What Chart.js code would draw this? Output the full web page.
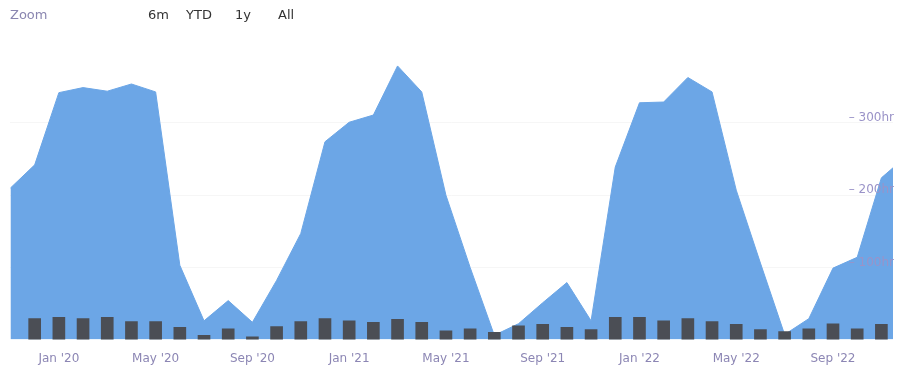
<!DOCTYPE html>
<html>
<head>
<meta charset="utf-8">
<script src="https://cdn.jsdelivr.net/npm/chart.js@4"></script>
<style>
  body { margin: 0; background: #fff; }
  #wrap { position: relative; width: 900px; height: 375px; }
  #zoomBar { position: absolute; left: 10px; top: 7px; font: 13px "DejaVu Sans", sans-serif; color: #8a86b0; }
  #zoomBar span { position: absolute; top: 0; color: #333; white-space: nowrap; }
</style>
</head>
<body>
<div id="wrap">
  <canvas id="hoursChart" width="900" height="375"></canvas>
  <div id="zoomBar">Zoom
    <span style="left:138px">6m</span>
    <span style="left:176px">YTD</span>
    <span style="left:225px">1y</span>
    <span style="left:268px">All</span>
  </div>
</div>
<script>
// months from Nov '19 to Dec '22
const months = ["Nov '19", "Dec '19",
    "Jan '20", "Feb '20", "Mar '20", "Apr '20", "May '20", "Jun '20", "Jul '20", "Aug '20", "Sep '20", "Oct '20", "Nov '20", "Dec '20",
    "Jan '21", "Feb '21", "Mar '21", "Apr '21", "May '21", "Jun '21", "Jul '21", "Aug '21", "Sep '21", "Oct '21", "Nov '21", "Dec '21",
    "Jan '22", "Feb '22", "Mar '22", "Apr '22", "May '22", "Jun '22", "Jul '22", "Aug '22", "Sep '22", "Oct '22", "Nov '22", "Dec '22"];

// total hours (area)
const totalHours = [210, 242,
    342, 349, 344, 354, 343, 103, 26, 54, 24, 82, 147, 274,
    301, 311, 379, 343, 200, 100, 6, 22, 51, 79, 26, 239,
    328, 329, 363, 343, 207, 106, 7, 29, 99, 114, 224, 253];

// second series (columns)
const columnHours = [null, 29,
    31, 29, 31, 25, 25, 17, 6, 15, 4, 18, 25, 29,
    26, 24, 28, 24, 12, 15, 10, 19, 21, 17, 14, 31,
    31, 26, 29, 25, 21, 14, 11, 15, 22, 15, 21, null];

const xTickMonths = ["Jan '20", "May '20", "Sep '20", "Jan '21", "May '21", "Sep '21", "Jan '22", "May '22", "Sep '22"];
const yTicks = [100, 200, 300];

const labelFont = { family: 'DejaVu Sans', size: 12 };

const ctxHours = document.getElementById('hoursChart').getContext('2d');
const myHoursChart = new Chart(ctxHours, {
    data: {
        datasets: [{
            type: 'bar',
            label: 'Columns',
            data: columnHours.map((v, i) => ({ x: i, y: v })),
            backgroundColor: '#4b4e55',
            barThickness: 12,
            order: 0
        },
        {
            type: 'line',
            label: 'Hours',
            data: totalHours.map((v, i) => ({ x: i, y: v })),
            backgroundColor: 'rgb(108,166,230)',
            borderColor: 'rgb(108,166,230)',
            borderWidth: 1,
            fill: 'origin',
            tension: 0,
            pointRadius: 0,
            order: 1
        }]
    },
    options: {
        responsive: false,
        animation: false,
        layout: { padding: { left: 10, right: 7, top: 45, bottom: -3 } },
        plugins: { legend: { display: false }, tooltip: { enabled: false } },
        scales: {
            x: {
                type: 'linear',
                offset: false,
                min: -0.02,
                max: 36.48,
                afterBuildTicks: (axis) => {
                    axis.ticks = xTickMonths.map(m => ({ value: months.indexOf(m) }));
                },
                ticks: {
                    callback: (v) => months[v],
                    color: '#8c86b4',
                    font: labelFont,
                    padding: 12,
                    maxRotation: 0,
                    autoSkip: false
                },
                grid: { display: false, drawTicks: false, offset: false },
                border: { display: false }
            },
            y: {
                position: 'right',
                min: 0,
                max: 408,
                afterBuildTicks: (axis) => {
                    axis.ticks = yTicks.map(v => ({ value: v }));
                },
                afterFit: (axis) => { axis.width = 0; },
                ticks: {
                    mirror: true,
                    z: 1,
                    callback: (v) => '\u2013 ' + v + 'hr',
                    color: '#9a93c8',
                    font: labelFont,
                    padding: 1,
                    labelOffset: -5
                },
                grid: { color: 'rgba(0,0,0,0.035)', drawTicks: false },
                border: { display: false }
            }
        }
    }
});
</script>
</body>
</html>
